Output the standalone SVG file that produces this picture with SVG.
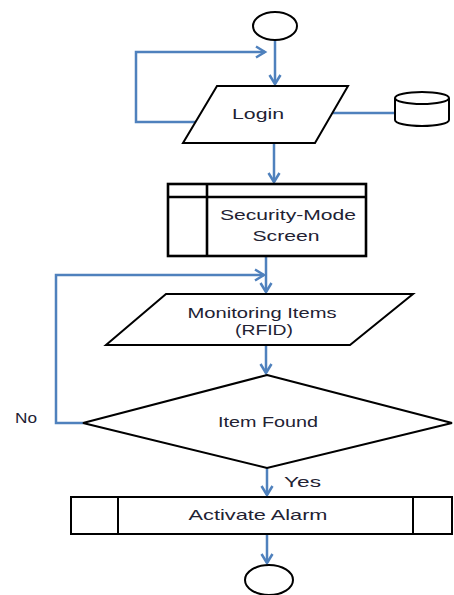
<svg xmlns="http://www.w3.org/2000/svg" width="454" height="595" viewBox="0 0 454 595">
<defs>
<style>
.shape{fill:#fff;stroke:#000;stroke-width:2}
.thick{stroke-width:2.6}
.conn{fill:none;stroke:#4f81bd;stroke-width:2.5}
.t{font-family:"Liberation Sans",Arial,sans-serif;font-size:15px;fill:#222233;text-anchor:middle}
.tl{font-family:"Liberation Sans",Arial,sans-serif;font-size:15px;fill:#222233;text-anchor:start}
</style>
<marker id="arr" markerUnits="userSpaceOnUse" markerWidth="14" markerHeight="14" refX="10" refY="7" orient="auto">
<path d="M1,1.5 L10,7 L1,12.5" fill="none" stroke="#4f81bd" stroke-width="2.5"/>
</marker>
</defs>
<rect width="454" height="595" fill="#fff"/>
<g id="connectors">
<path class="conn" d="M275,40 V84" marker-end="url(#arr)"/>
<path class="conn" d="M199,122 H136 V52 H265" marker-end="url(#arr)"/>
<path class="conn" d="M333,113 H395"/>
<path class="conn" d="M274,143 V182" marker-end="url(#arr)"/>
<path class="conn" d="M266,256 V292" marker-end="url(#arr)"/>
<path class="conn" d="M83,423 H56 V275 H264" marker-end="url(#arr)"/>
<path class="conn" d="M266,345 V373" marker-end="url(#arr)"/>
<path class="conn" d="M267,468 V495" marker-end="url(#arr)"/>
<path class="conn" d="M267,534 V563" marker-end="url(#arr)"/>
<text class="tl" x="284" y="487" textLength="37" lengthAdjust="spacingAndGlyphs">Yes</text>
<text class="tl" x="15" y="423" textLength="22" lengthAdjust="spacingAndGlyphs">No</text>
</g>
<g id="start">
<ellipse class="shape" cx="275" cy="26" rx="22" ry="14"/>
</g>
<g id="login">
<polygon class="shape" points="217,86 348,86 315,143 183,143"/>
<text class="t" x="258" y="119" textLength="52" lengthAdjust="spacingAndGlyphs">Login</text>
</g>
<g id="database">
<path class="shape" d="M395,98 V120 A27,6 0 0 0 449,120 V98"/>
<ellipse class="shape" cx="422" cy="98" rx="27" ry="6"/>
</g>
<g id="security-mode">
<rect class="shape thick" x="168" y="184" width="198" height="72"/>
<path d="M168,197 H366 M207,184 V256" fill="none" stroke="#000" stroke-width="2.6"/>
<text class="t" x="288" y="220" textLength="136" lengthAdjust="spacingAndGlyphs">Security-Mode</text>
<text class="t" x="286" y="241" textLength="67" lengthAdjust="spacingAndGlyphs">Screen</text>
</g>
<g id="monitoring">
<polygon class="shape" points="166,294 413,294 350,345 106,345"/>
<text class="t" x="262" y="318" textLength="149" lengthAdjust="spacingAndGlyphs">Monitoring Items</text>
<text class="t" x="264" y="335" textLength="58" lengthAdjust="spacingAndGlyphs">(RFID)</text>
</g>
<g id="item-found">
<polygon class="shape" points="267,375 452,423 267,468 83,423"/>
<text class="t" x="268" y="427" textLength="100" lengthAdjust="spacingAndGlyphs">Item Found</text>
</g>
<g id="activate-alarm">
<rect class="shape" x="71" y="497" width="381" height="37"/>
<path d="M118,497 V534 M413,497 V534" fill="none" stroke="#000" stroke-width="2"/>
<text class="t" x="258" y="520" textLength="139" lengthAdjust="spacingAndGlyphs">Activate Alarm</text>
</g>
<g id="end">
<ellipse class="shape" cx="269" cy="580" rx="24" ry="15"/>
</g>
</svg>
